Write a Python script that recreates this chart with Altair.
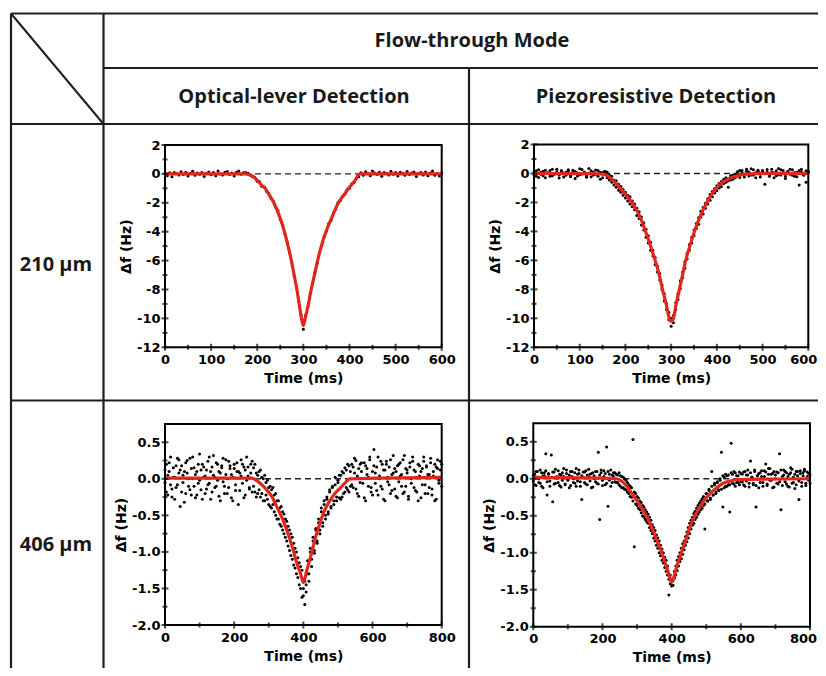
import altair as alt
import pandas as pd

# ---------------- data ----------------
# sampling times (ms)
T5 = [0,5,10,15,20,25,30,35,40,45,50,55,60,65,70,75,80,85,90,95,
      100,105,110,115,120,125,130,135,140,145,150,155,160,165,170,175,180,185,190,195,
      200,205,210,215,220,225,230,235,240,245,250,255,260,265,270,275,280,285,290,295,
      300,305,310,315,320,325,330,335,340,345,350,355,360,365,370,375,380,385,390,395,
      400,405,410,415,420,425,430,435,440,445,450,455,460,465,470,475,480,485,490,495,
      500,505,510,515,520,525,530,535,540,545,550,555,560,565,570,575,580,585,590,595,600]
T4 = [0,4,8,12,16,20,24,28,32,36,40,44,48,52,56,60,64,68,72,76,80,84,88,92,96,
      100,104,108,112,116,120,124,128,132,136,140,144,148,152,156,160,164,168,172,176,180,184,188,192,196,
      200,204,208,212,216,220,224,228,232,236,240,244,248,252,256,260,264,268,272,276,280,284,288,292,296,
      300,304,308,312,316,320,324,328,332,336,340,344,348,352,356,360,364,368,372,376,380,384,388,392,396,
      400,404,408,412,416,420,424,428,432,436,440,444,448,452,456,460,464,468,472,476,480,484,488,492,496,
      500,504,508,512,516,520,524,528,532,536,540,544,548,552,556,560,564,568,572,576,580,584,588,592,596,
      600,604,608,612,616,620,624,628,632,636,640,644,648,652,656,660,664,668,672,676,680,684,688,692,696,
      700,704,708,712,716,720,724,728,732,736,740,744,748,752,756,760,764,768,772,776,780,784,788,792,796,
      800]

# 210 um, optical lever (Hz)
tl_a = [0.05,-0.12,0.08,-0.2,0.1,0.02,-0.08,0.15,-0.05,0.12,-0.15,0.03,0.18,-0.1,0.06,-0.02,0.1,-0.18,
        0.04,0.14,-0.06,0.09,-0.12,0.2,0.0,-0.08,0.11,0.16,-0.04,0.07,-0.14,0.12,0.2,-0.03,0.08,0.1]
tl_b = [0.05,-0.1,-0.2,-0.25,-0.5,-0.55,-0.85,-0.9,-1.2,-1.35,-1.7,-1.9,-2.3,-2.55,-3.15,-3.55,-4.15,
        -4.7,-5.45,-6.1,-7.05,-7.8,-8.85,-9.75,-10.75,-9.8,-9.2,-8.25,-7.6,-6.8,-6.2,-5.45,-4.95,-4.35,
        -3.95,-3.45,-3.2,-2.7,-2.45,-2.0,-1.85,-1.55,-1.4,-1.1,-1.0,-0.7,-0.6,-0.3,-0.2]
tl_c = [0.08,-0.1,0.15,0.02,-0.12,0.2,0.06,-0.05,0.12,-0.16,0.1,0.04,-0.08,0.18,-0.02,0.09,-0.14,0.11,
        0.05,-0.1,0.16,-0.04,0.07,0.13,-0.18,0.02,0.1,-0.07,0.14,-0.12,0.06,0.2,-0.09,0.03,-0.15,0.08]
tl_vals = tl_a + tl_b + tl_c

# 210 um, piezoresistive (Hz) - two readings per time step
tr_a = [0.1,-0.2,0.25,-0.05,0.15,-0.3,0.05,0.2,-0.15,0.0,0.3,-0.1,0.12,-0.25,0.08,0.18,-0.12,0.22,
        -0.35,0.05,-0.08,0.28,0.02,-0.18,0.35,-0.22,0.1,-0.05,0.2,-0.4,0.06,0.15]
tr_b = [0.1,-0.45,-0.2,-0.8,-0.5,-1.15,-0.9,-1.5,-1.3,-1.9,-1.6,-2.3,-2.1,-2.9,-2.65,-3.55,-3.4,-4.4,
        -4.3,-5.3,-5.3,-6.3,-6.4,-7.35,-7.7,-8.8,-9.0,-10.1,-10.55,-9.8,-9.4,-8.3,-7.95,-6.8,-6.55,-5.5,
        -5.3,-4.4,-4.3,-3.45,-3.5,-2.6,-2.8,-2.05,-2.1,-1.45,-1.6,-1.05,-1.2,-0.7,-0.9,-0.4,-0.6,-0.95,
        -0.15,-0.4,-0.05]
tr_c = [-0.15,0.2,0.05,-0.25,0.3,0.1,-0.1,0.25,-0.3,0.15,-0.05,0.2,-0.75,0.1,-0.2,0.3,0.05,-0.15,
        0.35,-0.1,0.2,-0.35,0.12,-0.05,0.25,-0.2,0.08,-0.8,0.3,-0.12,0.18,0.05]
tr_vals = tr_a + tr_b + tr_c
tr_a2 = [-0.1,0.18,-0.28,0.08,-0.15,0.22,0.0,-0.2,0.3,-0.06,0.12,-0.32,0.2,0.04,-0.12,0.26,-0.22,0.06,
         0.14,-0.18,0.32,-0.04,0.1,-0.26,0.02,0.18,-0.1,0.24,-0.2,0.08,-0.3,0.12]
tr_b2 = [-0.3,-0.1,-0.6,-0.45,-0.95,-0.75,-1.3,-1.1,-1.7,-1.5,-2.1,-1.9,-2.5,-2.4,-3.1,-3.0,-3.9,-3.85,
         -4.8,-4.75,-5.7,-5.8,-6.8,-6.9,-8.0,-8.3,-9.4,-9.6,-10.0,-10.3,-8.9,-8.7,-7.4,-7.2,-6.1,-5.9,
         -4.9,-4.8,-3.9,-3.8,-3.05,-3.0,-2.35,-2.4,-1.75,-1.85,-1.25,-1.35,-0.85,-1.0,-0.55,-0.7,-0.3,
         -0.5,-0.45,-0.1,-0.3]
tr_c2 = [0.12,-0.28,0.2,-0.05,0.15,-0.18,0.32,-0.1,0.05,0.22,-0.25,0.1,-0.02,0.28,-0.15,0.08,-0.3,0.18,
         -0.08,0.25,0.0,-0.2,0.14,0.3,-0.12,0.06,-0.22,0.2,0.1,-0.05,-0.6,0.15]
tr_vals2 = tr_a2 + tr_b2 + tr_c2

# 406 um, optical lever (Hz) - two readings per time step
bl_a = [0.12,-0.18,0.05,0.22,-0.08,-0.25,0.15,0.02,-0.12,0.28,0.08,-0.38,0.18,-0.05,0.1,-0.2,0.25,0.0,
        -0.15,0.14,0.3,-0.1,0.06,-0.22,0.2,-0.02,0.12,-0.28,0.16,0.04,-0.14,0.24,-0.06,0.1,-0.18,0.32,
        0.02,-0.1,0.2,-0.24,0.08,0.15,-0.04,-0.2,0.26,0.0,-0.12,0.18,0.06,-0.3,0.14,-0.08,0.22,0.1,
        -0.16,0.04,0.2,-0.26,0.12,-0.02,0.16,-0.14,0.08,0.24]
bl_b = [0.15,-0.18,0.08,-0.2,0.1,-0.25,0.02,-0.3,0.05,-0.22,-0.02,-0.35,-0.1,-0.4,-0.12,-0.45,-0.2,
        -0.55,-0.3,-0.62,-0.38,-0.7,-0.48,-0.8,-0.58,-0.92,-0.7,-1.05,-0.8,-1.18,-0.95,-1.3,-1.08,-1.45,
        -1.2,-1.62,-1.5,-1.72,-1.45,-1.3,-1.4,-1.0,-1.2,-0.85,-1.02,-0.7,-0.88,-0.55,-0.75,-0.45,-0.65,
        -0.35,-0.55,-0.25,-0.48,-0.18,-0.4,-0.12,-0.35,-0.08,-0.3,-0.02,-0.26,0.05,-0.25,0.08,-0.18,
        0.12,-0.15,0.18,-0.1]
bl_c = [0.2,-0.12,0.08,0.25,-0.2,0.14,-0.05,0.22,0.0,-0.26,0.18,0.06,-0.1,0.3,-0.18,0.1,0.4,-0.06,
        0.16,-0.22,0.04,0.24,-0.14,0.12,-0.3,0.2,0.02,-0.08,0.26,-0.16,0.08,0.14,-0.24,0.18,-0.04,0.22,
        0.06,-0.2,0.32,-0.1,0.12,-0.28,0.16,0.0,0.24,-0.12,0.1,-0.18,0.2,0.04,-0.26,0.14,0.3,-0.08,
        0.18,-0.2,0.06,0.22,-0.14,0.1,-0.3,0.16,0.26,-0.06,0.12,0.2]
bl_vals = bl_a + bl_b + bl_c
bl_a2 = [-0.05,0.2,-0.22,0.1,0.3,-0.14,0.02,-0.28,0.18,-0.08,0.26,0.12,-0.18,0.05,-0.32,0.22,0.08,-0.1,
         0.28,-0.22,0.0,0.15,-0.26,0.1,-0.06,0.34,-0.15,0.2,0.02,-0.2,0.12,-0.08,0.3,-0.28,0.16,0.05,
         -0.12,0.22,-0.02,0.1,-0.3,0.18,0.28,-0.1,0.06,-0.2,0.24,0.14,-0.26,0.02,0.2,-0.16,0.1,-0.35,
         0.08,0.26,-0.06,0.16,-0.22,0.3,0.04,-0.12,0.2,-0.18]
bl_b2 = [-0.1,0.2,-0.25,0.05,-0.15,0.12,-0.2,0.0,-0.3,-0.05,-0.28,-0.12,-0.38,-0.15,-0.35,-0.22,-0.5,
         -0.3,-0.55,-0.4,-0.65,-0.45,-0.75,-0.55,-0.85,-0.65,-0.98,-0.75,-1.1,-0.88,-1.22,-1.0,-1.35,
         -1.15,-1.5,-1.25,-1.6,-1.4,-1.55,-1.12,-1.3,-0.95,-1.1,-0.8,-0.98,-0.68,-0.85,-0.6,-0.7,-0.4,
         -0.6,-0.3,-0.5,-0.28,-0.45,-0.15,-0.38,-0.1,-0.3,0.02,-0.25,-0.05,0.05,-0.28,0.1,-0.2,0.15,
         -0.12,0.2,-0.18,0.1]
bl_c2 = [-0.08,0.16,0.28,-0.14,0.04,-0.24,0.2,0.1,-0.06,0.22,-0.3,0.14,0.02,0.26,-0.12,-0.22,0.18,0.08,
         -0.16,0.3,0.0,-0.1,0.2,-0.28,0.12,0.24,-0.04,0.16,-0.2,0.06,0.32,-0.14,0.1,-0.26,0.2,0.04,
         -0.1,0.26,-0.18,0.14,0.08,-0.24,0.22,-0.06,0.3,0.12,-0.16,0.02,-0.3,0.18,0.1,-0.08,0.24,-0.2,
         0.16,0.06,-0.12,0.28,-0.22,0.04,0.2,-0.28,0.14,-0.02,0.24,-0.1]
bl_vals2 = bl_a2 + bl_b2 + bl_c2

# 406 um, piezoresistive (Hz) - two readings per time step
br_a = [0.05,-0.08,0.1,0.02,-0.05,0.12,-0.1,0.04,0.08,0.34,-0.22,0.06,-0.03,0.32,-0.31,0.09,-0.06,
        0.03,0.11,-0.09,0.05,-0.02,0.14,-0.07,0.07,0.0,-0.12,0.1,0.03,-0.05,0.08,-0.1,0.06,0.12,-0.04,
        -0.28,0.02,0.09,-0.07,0.05,0.13,-0.03,0.07,-0.11,0.04,0.1,-0.06,0.36,-0.55,0.08,-0.02,0.11,
        -0.08,0.43,-0.37,0.06,0.12,-0.05,0.03,0.08]
br_b = [0.06,-0.05,0.08,-0.1,0.03,-0.12,0.0,-0.15,-0.05,-0.2,-0.1,-0.25,0.53,-0.92,-0.2,-0.36,-0.26,
        -0.42,-0.32,-0.5,-0.38,-0.55,-0.45,-0.6,-0.52,-0.7,-0.62,-0.8,-0.7,-0.9,-0.8,-1.0,-0.9,-1.1,
        -1.0,-1.2,-1.1,-1.3,-1.57,-1.3,-1.45,-1.38,-1.25,-1.3,-1.1,-1.18,-1.0,-1.08,-0.88,-0.96,-0.78,
        -0.85,-0.66,-0.74,-0.56,-0.63,-0.47,-0.55,-0.4,-0.48,-0.33,-0.42,-0.27,-0.36,-0.68,-0.2,-0.3,
        -0.16,-0.26,0.1,-0.22,-0.08,-0.18,-0.05,-0.15,-0.02,0.36,-0.38,0.02,-0.1,0.04,-0.08,-0.45,0.48,
        0.06,-0.07,0.08,-0.05,0.04,-0.08,0.07]
br_c = [-0.04,0.09,-0.1,0.05,0.12,-0.06,0.24,0.02,-0.08,0.1,-0.38,0.04,-0.12,0.08,0.03,-0.05,0.11,
        0.2,-0.09,0.06,0.14,-0.02,0.07,-0.11,0.05,0.09,-0.07,0.34,-0.42,0.03,0.12,-0.04,0.08,-0.1,0.06,
        0.15,-0.06,0.02,-0.13,0.1,0.04,-0.28,0.11,-0.05,0.08,0.13,-0.09,0.03,0.07,-0.06]
br_vals = br_a + br_b + br_c
br_a2 = [-0.03,0.06,-0.09,0.1,0.0,-0.06,0.08,-0.12,0.04,0.11,-0.04,0.07,-0.1,0.02,0.09,-0.07,0.13,0.01,
         -0.05,0.06,-0.11,0.08,0.03,-0.08,0.12,-0.02,0.05,-0.09,0.1,0.0,-0.06,0.14,-0.03,0.07,-0.1,0.04,
         0.09,-0.05,0.11,-0.08,0.02,0.06,-0.12,0.08,0.0,-0.04,0.1,-0.07,0.05,0.12,-0.09,0.03,0.07,-0.06,
         0.1,-0.02,-0.1,0.05,0.08,-0.04]
br_b2 = [-0.05,0.05,-0.08,0.04,-0.12,0.02,-0.14,-0.02,-0.18,-0.08,-0.24,-0.12,-0.3,-0.18,-0.34,-0.24,
         -0.4,-0.3,-0.46,-0.36,-0.52,-0.42,-0.58,-0.48,-0.66,-0.56,-0.74,-0.66,-0.84,-0.76,-0.94,-0.84,
         -1.04,-0.95,-1.14,-1.06,-1.25,-1.18,-1.36,-1.42,-1.36,-1.44,-1.34,-1.18,-1.24,-1.05,-1.12,
         -0.94,-1.02,-0.84,-0.9,-0.72,-0.8,-0.6,-0.68,-0.52,-0.6,-0.44,-0.52,-0.36,-0.45,-0.3,-0.4,
         -0.24,-0.34,-0.2,-0.3,-0.14,-0.28,-0.1,-0.22,-0.06,-0.2,-0.04,-0.16,0.0,-0.14,0.04,-0.12,0.06,
         -0.1,0.05,-0.08,0.08,-0.06,0.1,-0.1,0.04,-0.05,0.09,-0.04]
br_c2 = [0.06,-0.08,0.1,-0.03,0.05,-0.11,0.08,0.02,-0.06,0.12,-0.09,0.04,0.07,-0.05,0.11,-0.1,0.03,0.09,
         -0.07,0.14,-0.02,0.06,-0.12,0.1,0.0,-0.06,0.08,-0.04,0.12,-0.09,0.05,0.1,-0.07,0.03,-0.11,0.08,
         0.13,-0.05,0.06,-0.08,0.1,-0.03,0.07,-0.1,0.04,0.11,-0.06,0.09,-0.02,0.05]
br_vals2 = br_a2 + br_b2 + br_c2

# fitted curves (red)
tl_fit_t = [0,175,182,190,200,210,217,225,236,249,259,267,274,280,286,291,296,300,304,311,
            317,324,331,339,349,362,376,387,398,410,423,600]
tl_fit_y = [0,0,-0.05,-0.15,-0.45,-0.8,-1.0,-1.4,-2.0,-3.0,-4.0,-5.0,-6.0,-7.0,-8.0,-9.0,-10.0,-10.5,
            -10.0,-9.0,-8.0,-7.0,-6.0,-5.0,-4.0,-3.0,-2.0,-1.5,-1.0,-0.55,0,0]
tr_fit_t = [0,140,150,160,170,180,188,200,214,232,244,255,265,274,281,289,296,300,305,311,
            318,325,332,341,351,363,378,399,418,440,465,500,600]
tr_fit_y = [0,-0.02,-0.05,-0.15,-0.4,-0.7,-1.0,-1.45,-2.0,-3.0,-4.0,-5.0,-6.0,-7.0,-8.0,-9.0,-10.0,
            -10.2,-10.0,-9.0,-8.0,-7.0,-6.0,-5.0,-4.0,-3.0,-2.0,-1.0,-0.5,-0.2,-0.05,0,0]
bl_fit_t = [0,250,257,275,294,310,323,340,352,366,381,392,400,410,419,430,439,450,458,470,
            482,495,506,520,535,800]
bl_fit_y = [0.01,0.01,0.0,-0.06,-0.15,-0.25,-0.38,-0.55,-0.7,-0.9,-1.15,-1.3,-1.42,-1.25,-1.1,-0.9,
            -0.74,-0.58,-0.47,-0.35,-0.26,-0.18,-0.13,-0.06,0.0,0.02]
br_fit_t = [0,200,240,255,270,285,299,314,328,343,357,370,381,390,400,407,414,424,434,444,
            453,467,482,496,511,530,549,570,590,800]
br_fit_y = [0.02,0.01,0.0,-0.03,-0.1,-0.2,-0.29,-0.4,-0.51,-0.66,-0.83,-0.98,-1.14,-1.26,-1.4,-1.32,
            -1.2,-1.06,-0.92,-0.78,-0.65,-0.5,-0.38,-0.28,-0.2,-0.12,-0.06,-0.03,-0.01,0.0]

# axis ticks
top_x_major = [0,100,200,300,400,500,600]
top_x_minor = [50,150,250,350,450,550]
top_y_major = [-12,-10,-8,-6,-4,-2,0,2]
top_y_minor = [-11,-9,-7,-5,-3,-1,1]
bot_x_major = [0,200,400,600,800]
bot_x_minor = [100,300,500,700]
bot_y_major = [-2.0,-1.5,-1.0,-0.5,0.0,0.5]
bot_y_minor = [-1.75,-1.25,-0.75,-0.25,0.25]

# text
col_header = "Flow-through Mode"
sub_headers = ["Optical-lever Detection", "Piezoresistive Detection"]
row_labels = ["210 \u00b5m", "406 \u00b5m"]
x_title = "Time (ms)"
y_title = "\u0394f (Hz)"

assert len(tl_vals) == len(T5) and len(tr_vals) == len(T5) and len(tr_vals2) == len(T5)
assert len(bl_vals) == len(T4) and len(br_vals) == len(T4)
assert len(bl_vals2) == len(T4) and len(br_vals2) == len(T4)

# ---------------- layout / style ----------------
W, H = 810, 660
RED = "#e3261d"
INK = "#1e1e1e"
ONE = pd.DataFrame({"k": [0]})
MINUS = "replace(datum.label, '\u2212', '-')"

AX = dict(labelFont="DejaVu Sans", labelFontWeight="bold", labelFontSize=13, labelColor="black",
          titleFont="DejaVu Sans", titleFontWeight="bold", titleFontSize=14, titleColor="black",
          domain=False, ticks=False, grid=False, labelFlush=False, labelOverlap=False,
          labelExpr=MINUS)


def rule(x, x2, y, y2, w=2.2):
    return alt.Chart(ONE).mark_rule(color=INK, strokeWidth=w).encode(
        x=alt.value(x), x2=alt.value(x2), y=alt.value(y), y2=alt.value(y2))


def label(txt, x, y, size=20):
    return alt.Chart(ONE).mark_text(font="Open Sans", fontWeight="bold", fontSize=size,
                                    color="#1a1a1a", align="center", baseline="middle").encode(
        x=alt.value(x), y=alt.value(y), text=alt.value(txt))


def panel(t, v, ft, fy, xdom, ydom, xr, yr, xt, xm, yt, ym, yfmt, edge_shift=0):
    xs = alt.Scale(domain=xdom, range=xr, nice=False, zero=False)
    ys = alt.Scale(domain=ydom, range=yr, nice=False, zero=False)
    # keep the last x label inside the picture when the panel touches its right edge
    x_label_offset = {"condition": {"test": "datum.value == %s" % xt[-1], "value": edge_shift},
                      "value": 0}
    out = []
    out.append(alt.Chart(ONE).mark_rule(strokeDash=[6, 4], color="#222222", strokeWidth=1.4).encode(
        x=alt.XDatum(xdom[0], type="quantitative", scale=xs, axis=None),
        x2=alt.X2Datum(xdom[1]),
        y=alt.YDatum(0, type="quantitative", scale=ys, axis=None)))
    out.append(alt.Chart(pd.DataFrame({"t": t, "v": v})).mark_circle(size=9, color="black", opacity=1).encode(
        x=alt.X("t:Q", scale=xs, axis=alt.Axis(orient="bottom", offset=yr[0] - H, values=xt,
                                                 title=x_title, labelPadding=6, titlePadding=5,
                                                 labelOffset=x_label_offset, **AX)),
        y=alt.Y("v:Q", scale=ys, axis=alt.Axis(orient="left", offset=-xr[0], values=yt, format=yfmt,
                                                 title=y_title, labelPadding=5, titlePadding=3, **AX))))
    out.append(alt.Chart(pd.DataFrame({"t": ft, "y": fy})).mark_line(
        color=RED, strokeWidth=3.2, interpolate="monotone").encode(
        x=alt.X("t:Q", scale=xs, axis=None), y=alt.Y("y:Q", scale=ys, axis=None)))
    out.append(alt.Chart(ONE).mark_rect(fillOpacity=0, stroke="black", strokeWidth=2).encode(
        x=alt.XDatum(xdom[0], type="quantitative", scale=xs, axis=None), x2=alt.X2Datum(xdom[1]),
        y=alt.YDatum(ydom[0], type="quantitative", scale=ys, axis=None), y2=alt.Y2Datum(ydom[1])))
    for vals, size in ((yt, 7), (ym, 5)):
        out.append(alt.Chart(pd.DataFrame({"v": vals})).mark_tick(
            orient="horizontal", size=size, thickness=2, color="black").encode(
            y=alt.Y("v:Q", scale=ys, axis=None),
            x=alt.XDatum(xdom[0], type="quantitative", scale=xs, axis=None)))
    for vals, size in ((xt, 7), (xm, 5)):
        out.append(alt.Chart(pd.DataFrame({"v": vals})).mark_tick(
            orient="vertical", size=size, thickness=2, color="black").encode(
            x=alt.X("v:Q", scale=xs, axis=None),
            y=alt.YDatum(ydom[0], type="quantitative", scale=ys, axis=None)))
    return out


layers = [
    rule(3, W, 5.5, 5.5),
    rule(3, 3, 5.5, H),
    rule(95.5, 95.5, 5.5, H),
    rule(95.5, W, 60, 60),
    rule(461, 461, 60, H),
    rule(3, W, 116, 116),
    rule(3, W, 392.5, 392.5),
    rule(3, 95.5, 5.5, 116, 2),
    label(col_header, 464, 33),
    label(sub_headers[0], 286, 89),
    label(sub_headers[1], 648, 89),
    label(row_labels[0], 48, 257),
    label(row_labels[1], 48, 537),
]
layers += panel(T5, tl_vals, tl_fit_t, tl_fit_y, [0, 600], [-12, 2], [157, 433.7], [339.3, 137],
                top_x_major, top_x_minor, top_y_major, top_y_minor, "d")
layers += panel(T5 + T5, tr_vals + tr_vals2, tr_fit_t, tr_fit_y, [0, 600], [-12, 2], [526, 800.3],
                [339.3, 136.5], top_x_major, top_x_minor, top_y_major, top_y_minor, "d", -5)
layers += panel(T4 + T4, bl_vals + bl_vals2, bl_fit_t, bl_fit_y, [0, 800], [-2, 0.75], [157, 433.7],
                [617, 416], bot_x_major, bot_x_minor, bot_y_major, bot_y_minor, ".1f")
layers += panel(T4 + T4, br_vals + br_vals2, br_fit_t, br_fit_y, [0, 800], [-2, 0.75], [525.3, 802],
                [618.7, 415.3], bot_x_major, bot_x_minor, bot_y_major, bot_y_minor, ".1f", -7)

chart = alt.layer(*layers).properties(
    width=W, height=H, padding=0, background="white",
    autosize=alt.AutoSizeParams(type="none"),
).resolve_scale(x="independent", y="independent").resolve_axis(
    x="independent", y="independent").configure_view(stroke=None)

chart.save("out.html", embed_options={"renderer": "svg", "actions": False})
